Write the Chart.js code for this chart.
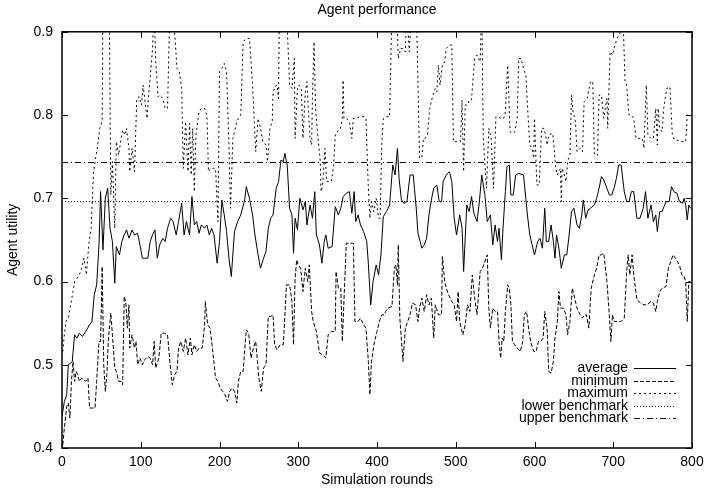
<!DOCTYPE html>
<html lang="en">
  <head>
    <meta charset="UTF-8" />
    <title>Agent performance</title>
    <style>
      body {
        margin: 0;
        background-color: #ffffff;
      }
    </style>
    <script src="https://cdn.jsdelivr.net/npm/chart.js"></script>
  </head>
  <body>
    <canvas id="myChart" width="704" height="490"></canvas>
    <script>
      // values
      const avgRounds = [0,3,6,8,11,13,16,19,22,26,
        30,35,38,41,44,47,49,52,55,58,
        61,64,67,69,73,76,79,82,85,89,
        92,96,99,102,106,109,112,115,118,121,
        124,128,131,134,138,141,145,148,152,155,
        158,162,165,168,171,174,177,181,184,187,
        190,193,197,200,203,206,209,212,215,219,
        223,227,232,234,238,242,245,249,252,256,
        259,262,265,268,272,275,278,281,283,286,
        289,292,294,296,299,302,306,309,311,315,
        318,321,323,327,330,333,335,338,343,347,
        351,354,357,361,365,368,371,373,376,379,
        383,387,389,392,395,399,402,405,408,412,
        416,420,423,426,428,431,434,438,442,446,
        450,452,457,460,463,466,469,472,476,479,
        482,484,488,492,495,498,501,505,508,510,
        514,517,520,523,527,530,533,537,540,544,
        547,550,553,555,558,560,563,565,568,570,
        573,576,580,586,589,591,594,597,600,604,
        607,610,613,615,618,621,624,626,628,631,
        634,638,641,644,647,650,654,657,660,662,
        665,668,671,676,679,682,685,688,692,695,
        698,701,704,707,710,714,717,720,723,726,
        730,734,738,741,744,748,751,754,756,759,
        762,767,771,774,777,781,784,788,790,792,
        794,796,798];
      const avgValues = [0.438,0.456,0.464,0.5,0.502,0.504,0.536,0.532,0.538,0.534,
        0.54,0.548,0.552,0.584,0.596,0.644,0.708,0.638,0.7,0.712,
        0.664,0.648,0.598,0.642,0.632,0.648,0.656,0.662,0.652,0.662,
        0.656,0.658,0.644,0.628,0.628,0.628,0.648,0.656,0.662,0.628,
        0.644,0.652,0.648,0.664,0.676,0.672,0.656,0.672,0.694,0.656,
        0.672,0.656,0.702,0.668,0.672,0.658,0.668,0.664,0.668,0.656,
        0.664,0.656,0.622,0.648,0.698,0.68,0.66,0.628,0.606,0.66,
        0.672,0.68,0.698,0.714,0.7,0.68,0.656,0.632,0.616,0.628,
        0.636,0.664,0.676,0.68,0.712,0.72,0.746,0.744,0.754,0.74,
        0.688,0.68,0.634,0.676,0.662,0.7,0.686,0.696,0.668,0.692,
        0.676,0.708,0.656,0.644,0.622,0.648,0.656,0.64,0.642,0.69,
        0.68,0.688,0.702,0.706,0.708,0.682,0.708,0.672,0.68,0.668,
        0.66,0.648,0.622,0.572,0.6,0.62,0.608,0.632,0.678,0.684,
        0.692,0.74,0.728,0.76,0.724,0.698,0.694,0.696,0.728,0.728,
        0.686,0.658,0.64,0.644,0.652,0.68,0.698,0.712,0.716,0.696,
        0.696,0.72,0.728,0.732,0.72,0.676,0.656,0.68,0.664,0.612,
        0.692,0.684,0.702,0.682,0.672,0.696,0.728,0.704,0.672,0.68,
        0.644,0.668,0.648,0.664,0.626,0.664,0.708,0.738,0.74,0.704,
        0.704,0.728,0.73,0.728,0.7,0.68,0.656,0.644,0.632,0.648,
        0.652,0.64,0.688,0.648,0.648,0.668,0.648,0.628,0.656,0.64,
        0.616,0.632,0.632,0.656,0.684,0.688,0.668,0.664,0.68,0.698,
        0.676,0.686,0.688,0.692,0.7,0.712,0.726,0.722,0.712,0.704,
        0.704,0.712,0.724,0.74,0.74,0.708,0.696,0.696,0.708,0.708,
        0.676,0.676,0.688,0.708,0.676,0.692,0.672,0.68,0.66,0.684,
        0.684,0.696,0.696,0.714,0.708,0.706,0.696,0.694,0.7,0.692,
        0.674,0.692,0.688];

      const minRounds = [1,3,6,8,10,12,14,16,18,20,
        22,25,30,33,35,39,42,44,47,49,
        51,53,55,57,59,62,64,67,69,72,
        75,77,79,81,83,85,86,89,92,94,
        96,99,102,105,109,112,115,117,119,123,
        126,130,134,137,140,143,146,148,151,154,
        157,160,163,165,168,171,174,178,181,182,
        185,188,191,195,198,201,204,207,210,213,
        216,219,222,224,227,230,234,237,240,243,
        246,250,253,256,259,262,265,268,270,273,
        277,281,283,285,289,292,294,296,298,300,
        303,306,309,312,314,317,319,323,327,331,
        335,338,342,347,348,351,354,356,358,361,
        366,370,372,376,379,383,386,389,391,393,
        396,400,403,406,409,411,414,419,422,424,
        426,427,429,433,436,439,442,445,449,452,
        454,457,460,463,466,469,472,474,478,482,
        483,486,488,491,495,498,501,503,505,509,
        512,515,518,521,524,527,531,534,537,540,
        542,544,547,550,553,555,557,559,561,563,
        566,568,570,572,575,578,582,585,587,590,
        593,595,599,602,605,608,611,613,616,618,
        621,624,626,629,631,633,637,640,642,645,
        648,651,654,658,661,663,666,669,672,676,
        679,682,685,688,692,695,697,699,701,705,
        710,714,717,719,721,724,726,730,735,739,
        743,748,751,754,756,759,762,767,770,773,
        776,779,784,787,790,792,794,796,798];
      const minValues = [0.404,0.424,0.45,0.454,0.436,0.48,0.504,0.48,0.492,0.488,
        0.48,0.484,0.48,0.484,0.448,0.448,0.448,0.48,0.528,0.528,
        0.618,0.5,0.468,0.488,0.532,0.562,0.536,0.496,0.492,0.48,
        0.48,0.476,0.582,0.576,0.544,0.572,0.52,0.536,0.52,0.528,
        0.5,0.508,0.5,0.506,0.51,0.508,0.5,0.528,0.496,0.508,
        0.538,0.538,0.536,0.504,0.476,0.488,0.492,0.52,0.528,0.516,
        0.532,0.512,0.532,0.512,0.524,0.516,0.52,0.52,0.546,0.576,
        0.548,0.544,0.52,0.484,0.48,0.472,0.468,0.464,0.456,0.468,
        0.472,0.468,0.454,0.48,0.492,0.492,0.542,0.538,0.508,0.52,
        0.528,0.484,0.468,0.496,0.5,0.558,0.558,0.56,0.524,0.518,
        0.524,0.524,0.558,0.596,0.596,0.576,0.524,0.604,0.626,0.62,
        0.616,0.588,0.616,0.6,0.62,0.564,0.552,0.54,0.514,0.512,
        0.508,0.536,0.54,0.54,0.612,0.592,0.592,0.528,0.576,0.646,
        0.646,0.646,0.552,0.552,0.556,0.548,0.544,0.504,0.464,0.504,
        0.524,0.54,0.552,0.56,0.56,0.564,0.568,0.57,0.616,0.62,
        0.596,0.644,0.556,0.504,0.544,0.552,0.56,0.574,0.572,0.552,
        0.568,0.58,0.564,0.584,0.572,0.58,0.532,0.572,0.56,0.56,
        0.63,0.6,0.592,0.584,0.576,0.572,0.552,0.588,0.552,0.536,
        0.548,0.572,0.564,0.608,0.58,0.56,0.612,0.616,0.624,0.632,
        0.568,0.544,0.568,0.564,0.564,0.528,0.508,0.532,0.528,0.564,
        0.596,0.592,0.572,0.528,0.524,0.52,0.516,0.528,0.56,0.564,
        0.54,0.528,0.516,0.516,0.528,0.528,0.532,0.564,0.544,0.492,
        0.49,0.504,0.532,0.552,0.588,0.568,0.568,0.56,0.536,0.552,
        0.592,0.58,0.568,0.56,0.556,0.56,0.56,0.544,0.592,0.608,
        0.616,0.632,0.632,0.634,0.6,0.56,0.528,0.56,0.552,0.552,
        0.552,0.556,0.612,0.632,0.608,0.632,0.608,0.578,0.574,0.572,
        0.572,0.576,0.574,0.564,0.576,0.588,0.592,0.594,0.616,0.624,
        0.632,0.628,0.62,0.608,0.606,0.6,0.552,0.6,0.6];

      // values above 0.9 run off the top of the plot
      const maxRounds = [1,3,5,8,11,14,16,19,22,25,
        28,31,34,37,40,42,45,48,51,52,
        55,58,60,62,64,67,69,72,75,77,
        80,82,85,86,89,92,95,98,101,103,
        106,108,110,113,115,117,119,122,124,128,
        131,134,137,140,143,146,149,152,154,157,
        160,162,164,166,168,170,174,177,181,184,
        186,189,192,195,198,200,203,206,209,212,
        214,217,221,224,227,230,234,238,242,246,
        249,252,255,259,261,264,267,268,270,273,
        275,276,279,285,289,292,295,296,299,301,
        304,306,309,311,313,315,317,318,320,322,
        324,328,329,331,334,336,340,342,345,347,
        349,353,356,357,358,361,365,368,370,374,
        378,383,386,389,391,393,396,399,402,404,
        406,408,412,416,419,422,425,427,430,433,
        436,438,441,444,447,450,454,457,459,461,
        464,467,471,474,476,478,480,483,486,488,
        492,495,497,499,503,506,508,510,512,515,
        517,520,522,524,527,531,533,535,539,542,
        545,548,551,554,557,561,563,566,569,572,
        575,578,580,583,586,589,592,594,597,599,
        600,603,606,609,612,614,616,618,623,625,
        627,629,631,633,634,635,638,640,642,645,
        647,649,652,654,658,661,663,667,671,674,
        676,680,682,685,688,692,693,696,699,702,
        705,707,710,712,715,717,720,723,726,729,
        733,737,739,742,744,748,751,754,756,757,
        759,762,764,768,772,775,778,781,786,790,
        792,794,798];
      const maxValues = [0.516,0.536,0.552,0.556,0.572,0.588,0.6,0.604,0.608,0.616,
        0.628,0.608,0.644,0.664,0.732,0.744,0.762,0.784,0.792,0.93,
        0.93,0.93,0.93,0.704,0.744,0.664,0.768,0.752,0.772,0.782,
        0.776,0.784,0.76,0.732,0.76,0.732,0.82,0.822,0.812,0.836,
        0.812,0.796,0.824,0.856,0.88,0.93,0.864,0.822,0.824,0.82,
        0.808,0.808,0.93,0.93,0.9,0.856,0.852,0.832,0.736,0.792,
        0.732,0.79,0.728,0.784,0.708,0.776,0.804,0.808,0.808,0.8,
        0.732,0.736,0.736,0.736,0.672,0.852,0.856,0.862,0.852,0.764,
        0.688,0.772,0.788,0.796,0.8,0.888,0.892,0.892,0.836,0.756,
        0.796,0.784,0.768,0.764,0.744,0.784,0.792,0.824,0.834,0.836,
        0.82,0.93,0.93,0.93,0.836,0.832,0.868,0.772,0.832,0.836,
        0.832,0.772,0.828,0.84,0.804,0.772,0.764,0.82,0.888,0.808,
        0.784,0.744,0.708,0.716,0.76,0.72,0.72,0.72,0.74,0.776,
        0.78,0.782,0.796,0.842,0.796,0.796,0.792,0.772,0.796,0.796,
        0.798,0.798,0.796,0.712,0.676,0.696,0.684,0.7,0.676,0.676,
        0.764,0.796,0.798,0.798,0.93,0.93,0.93,0.868,0.88,0.88,
        0.876,0.93,0.876,0.93,0.93,0.93,0.748,0.75,0.772,0.772,
        0.776,0.808,0.824,0.832,0.828,0.86,0.836,0.86,0.864,0.88,
        0.884,0.884,0.768,0.768,0.768,0.768,0.818,0.732,0.812,0.812,
        0.818,0.818,0.844,0.868,0.872,0.864,0.93,0.772,0.712,0.784,
        0.772,0.712,0.798,0.798,0.796,0.796,0.804,0.86,0.78,0.778,
        0.78,0.796,0.868,0.868,0.856,0.848,0.796,0.764,0.76,0.748,
        0.796,0.716,0.716,0.784,0.784,0.776,0.764,0.776,0.778,0.76,
        0.736,0.728,0.732,0.736,0.696,0.736,0.728,0.72,0.744,0.752,
        0.824,0.804,0.792,0.756,0.76,0.756,0.816,0.82,0.84,0.84,
        0.752,0.752,0.824,0.824,0.796,0.82,0.784,0.876,0.872,0.884,
        0.892,0.896,0.9,0.93,0.84,0.836,0.8,0.8,0.796,0.772,
        0.772,0.772,0.76,0.836,0.776,0.772,0.772,0.808,0.764,0.808,
        0.784,0.78,0.808,0.832,0.834,0.776,0.77,0.77,0.768,0.768,
        0.768,0.8,0.8];

      const benchRounds = [0, 800];
      const lowerBenchmark = [0.696, 0.696];
      const upperBenchmark = [0.743, 0.743];

      const xTicks = [0, 100, 200, 300, 400, 500, 600, 700, 800];
      const yTicks = [0.4, 0.5, 0.6, 0.7, 0.8, 0.9];

      const fontFamily = '"Liberation Sans", Arial, Helvetica, sans-serif';
      const toPoints = (xs, ys) => xs.map((x, i) => ({ x, y: ys[i] }));

      // gnuplot-like frame with inward ticks on all four sides
      const frame = {
        id: "frame",
        afterDatasetsDraw(chart) {
          const { ctx, chartArea: a, scales } = chart;
          ctx.save();
          ctx.strokeStyle = "#000";
          ctx.setLineDash([]);
          ctx.lineWidth = 1;
          ctx.beginPath();
          xTicks.forEach((v) => {
            const px = Math.round(scales.x.getPixelForValue(v)) + 0.5;
            ctx.moveTo(px, a.bottom);
            ctx.lineTo(px, a.bottom - 6);
            ctx.moveTo(px, a.top);
            ctx.lineTo(px, a.top + 6);
          });
          yTicks.forEach((v) => {
            const py = Math.round(scales.y.getPixelForValue(v)) + 0.5;
            ctx.moveTo(a.left, py);
            ctx.lineTo(a.left + 6, py);
            ctx.moveTo(a.right, py);
            ctx.lineTo(a.right - 6, py);
          });
          ctx.stroke();
          ctx.lineWidth = 1.5;
          ctx.strokeRect(a.left, a.top, a.right - a.left, a.bottom - a.top);
          ctx.restore();
        }
      };

      // key sits inside the plot, bottom right, text right-aligned
      const key = {
        id: "key",
        afterDraw(chart) {
          const { ctx, chartArea: a } = chart;
          const n = chart.data.datasets.length;
          ctx.save();
          ctx.font = "14px " + fontFamily;
          ctx.textAlign = "right";
          ctx.textBaseline = "middle";
          chart.data.datasets.forEach((ds, i) => {
            const yy = Math.round(a.bottom - 30 - (n - 1 - i) * 12.5) + 0.5;
            ctx.fillStyle = "#000";
            ctx.fillText(ds.label, a.right - 64, yy);
            ctx.strokeStyle = "#000";
            ctx.lineWidth = 1;
            ctx.setLineDash(ds.borderDash || []);
            ctx.beginPath();
            ctx.moveTo(a.right - 58, yy);
            ctx.lineTo(a.right - 16, yy);
            ctx.stroke();
          });
          ctx.restore();
        }
      };

      const config = {
        type: "line",
        data: {
          datasets: [
            { label: "average", data: toPoints(avgRounds, avgValues), borderDash: [] },
            { label: "minimum", data: toPoints(minRounds, minValues), borderDash: [4, 2] },
            { label: "maximum", data: toPoints(maxRounds, maxValues), borderDash: [2, 3] },
            { label: "lower benchmark", data: toPoints(benchRounds, lowerBenchmark), borderDash: [1, 2] },
            { label: "upper benchmark", data: toPoints(benchRounds, upperBenchmark), borderDash: [6, 3, 1, 3] }
          ]
        },
        options: {
          responsive: false,
          animation: false,
          layout: { padding: { right: 12 } },
          elements: {
            point: { radius: 0 },
            line: { borderWidth: 1, borderColor: "#000", tension: 0, fill: false }
          },
          datasets: { line: { clip: 0 } },
          plugins: {
            legend: { display: false },
            tooltip: { enabled: false },
            title: {
              display: true,
              fullSize: false,
              text: "Agent performance",
              color: "#000",
              font: { family: fontFamily, size: 14, weight: "normal" },
              padding: { top: 2, bottom: 13 }
            }
          },
          scales: {
            x: {
              type: "linear",
              min: 0,
              max: 800,
              grid: { display: false, drawTicks: false },
              border: { display: false },
              ticks: {
                stepSize: 100,
                color: "#000",
                padding: 6,
                font: { family: fontFamily, size: 14 }
              },
              title: {
                display: true,
                text: "Simulation rounds",
                color: "#000",
                font: { family: fontFamily, size: 14 },
                padding: { top: 0, bottom: 1 }
              },
              afterFit: (scale) => {
                scale.height = 42;
                scale.paddingLeft = 0;
                scale.paddingRight = 0;
              }
            },
            y: {
              type: "linear",
              min: 0.4,
              max: 0.9,
              grid: { display: false, drawTicks: false },
              border: { display: false },
              ticks: {
                stepSize: 0.1,
                color: "#000",
                padding: 9,
                font: { family: fontFamily, size: 14 },
                callback: (v) => v.toFixed(1)
              },
              title: {
                display: true,
                text: "Agent utility",
                color: "#000",
                font: { family: fontFamily, size: 14 },
                padding: { top: 5, bottom: 0 }
              },
              afterFit: (scale) => {
                scale.width = 62;
              }
            }
          }
        },
        plugins: [frame, key]
      };
      const myChart = new Chart(document.getElementById("myChart"), config);
    </script>
  </body>
</html>
